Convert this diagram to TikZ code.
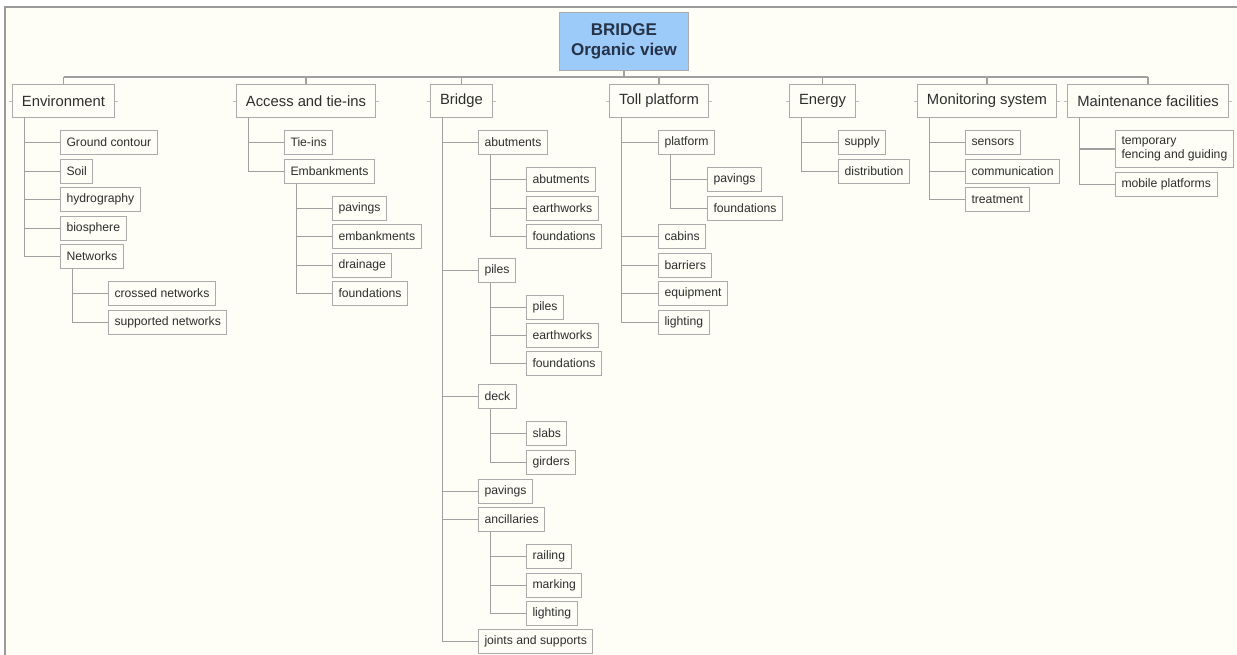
\documentclass[tikz,border=0pt]{standalone}
\usepackage{fontspec}
\setmainfont{Liberation Sans}
\definecolor{bgc}{HTML}{FEFEF7}
\definecolor{framec}{HTML}{9A9A9A}
\definecolor{boxc}{HTML}{ABABAB}
\definecolor{linec}{HTML}{A0A0A0}
\definecolor{txt}{HTML}{2E2E2E}
\definecolor{rootfill}{HTML}{9CCBFA}
\definecolor{roottxt}{HTML}{263248}
\newcommand\mybr[2]{\draw[conn] ([xshift=12.5pt]#1.south west) |- (#2.west);}
\newcommand\myticks[1]{\draw[tick] (#1.west) -- ++(-3,0); \draw[tick] (#1.east) -- ++(3,0);}
\begin{document}
\begin{tikzpicture}[x=1pt,y=-1pt,
  lvl1/.style={draw=boxc, line width=1pt, anchor=north west, minimum height=33pt, inner sep=0pt,
    font=\fontsize{14.8}{16}\selectfont, text=txt},
  leaf/.style={draw=boxc, line width=1pt, anchor=north west, minimum height=24pt, inner xsep=6pt,
    inner ysep=0pt, font=\fontsize{12.2}{14}\selectfont, text=txt, align=left},
  conn/.style={draw=linec, line width=1.2pt},
  tick/.style={draw=linec!70, line width=0.8pt}]
\useasboundingbox (0,0) rectangle (1237,655);
\fill[white] (0,0) rectangle (1237,655);
\fill[bgc] (5,7) rectangle (1237,655);
\draw[framec, line width=1.2pt] (5,655) -- (5,7) -- (1237,7);

% root
\node[draw=boxc, fill=rootfill, line width=1pt, anchor=north west, minimum width=129pt, minimum height=58pt,
  inner sep=0pt, align=center, font=\bfseries\fontsize{17}{20}\selectfont, text=roottxt] (root) at (559,12)
  {BRIDGE\\Organic view};
\coordinate (bus) at (0,77);

% level 1
\node[lvl1, minimum width=102pt] (env) at (12,84) {Environment};
\node[lvl1, minimum width=139pt] (acc) at (236,84) {Access and tie-ins};
\node[lvl1, minimum width=62pt] (brg) at (430,84) {Bridge};
\node[lvl1, minimum width=99pt] (toll) at (609,84) {Toll platform};
\node[lvl1, minimum width=66pt] (ene) at (789,84) {Energy};
\node[lvl1, minimum width=139pt] (mon) at (917,84) {Monitoring system};
\node[lvl1, minimum width=161pt] (mnt) at (1067,84) {Maintenance facilities};

\draw[conn] (root.south) -- (root.south |- bus);
\draw[conn] (env.north |- bus) -- (mnt.north |- bus);
\foreach \n in {env,acc,brg,toll,ene,mon,mnt}{
  \draw[conn] (\n.north) -- (\n.north |- bus);
  \myticks{\n}
}

% Environment
\node[leaf] (gc) at (60,130) {Ground contour};
\node[leaf] (soil) at (60,159) {Soil};
\node[leaf] (hyd) at (60,187) {hydrography};
\node[leaf] (bio) at (60,216) {biosphere};
\node[leaf] (net) at (60,244) {Networks};
\node[leaf] (cn) at (108,281) {crossed networks};
\node[leaf] (sn) at (108,310) {supported networks};
\foreach \c in {gc,soil,hyd,bio,net}{\mybr{env}{\c}}
\foreach \c in {cn,sn}{\mybr{net}{\c}}

% Access and tie-ins
\node[leaf] (tie) at (284,130) {Tie-ins};
\node[leaf] (emb) at (284,159) {Embankments};
\node[leaf] (epav) at (332,196) {pavings};
\node[leaf] (eemb) at (332,224) {embankments};
\node[leaf] (edra) at (332,253) {drainage};
\node[leaf] (efou) at (332,281) {foundations};
\foreach \c in {tie,emb}{\mybr{acc}{\c}}
\foreach \c in {epav,eemb,edra,efou}{\mybr{emb}{\c}}

% Bridge
\node[leaf] (abu) at (478,130) {abutments};
\node[leaf] (abu1) at (526,167) {abutments};
\node[leaf] (abu2) at (526,196) {earthworks};
\node[leaf] (abu3) at (526,224) {foundations};
\node[leaf] (pil) at (478,258) {piles};
\node[leaf] (pil1) at (526,295) {piles};
\node[leaf] (pil2) at (526,323) {earthworks};
\node[leaf] (pil3) at (526,351) {foundations};
\node[leaf] (deck) at (478,384) {deck};
\node[leaf] (deck1) at (526,421) {slabs};
\node[leaf] (deck2) at (526,450) {girders};
\node[leaf] (bpav) at (478,479) {pavings};
\node[leaf] (anc) at (478,507) {ancillaries};
\node[leaf] (anc1) at (526,544) {railing};
\node[leaf] (anc2) at (526,573) {marking};
\node[leaf] (anc3) at (526,601) {lighting};
\node[leaf] (jnt) at (478,629) {joints and supports};
\foreach \c in {abu,pil,deck,bpav,anc,jnt}{\mybr{brg}{\c}}
\foreach \c in {abu1,abu2,abu3}{\mybr{abu}{\c}}
\foreach \c in {pil1,pil2,pil3}{\mybr{pil}{\c}}
\foreach \c in {deck1,deck2}{\mybr{deck}{\c}}
\foreach \c in {anc1,anc2,anc3}{\mybr{anc}{\c}}

% Toll platform
\node[leaf] (plat) at (658,130) {platform};
\node[leaf] (plat1) at (707,167) {pavings};
\node[leaf] (plat2) at (707,196) {foundations};
\node[leaf] (cab) at (658,224) {cabins};
\node[leaf] (bar) at (658,253) {barriers};
\node[leaf] (equ) at (658,281) {equipment};
\node[leaf] (tlig) at (658,310) {lighting};
\foreach \c in {plat,cab,bar,equ,tlig}{\mybr{toll}{\c}}
\foreach \c in {plat1,plat2}{\mybr{plat}{\c}}

% Energy
\node[leaf] (sup) at (838,130) {supply};
\node[leaf] (dis) at (838,159) {distribution};
\foreach \c in {sup,dis}{\mybr{ene}{\c}}

% Monitoring system
\node[leaf] (sen) at (965,130) {sensors};
\node[leaf] (com) at (965,159) {communication};
\node[leaf] (tre) at (965,187) {treatment};
\foreach \c in {sen,com,tre}{\mybr{mon}{\c}}

% Maintenance facilities
\node[leaf, minimum height=37pt, font=\fontsize{12.2}{13.5}\selectfont] (tmp) at (1115,130) {temporary\\fencing and guiding};
\node[leaf] (mob) at (1115,172) {mobile platforms};
\foreach \c in {tmp,mob}{\mybr{mnt}{\c}}
\end{tikzpicture}
\end{document}
